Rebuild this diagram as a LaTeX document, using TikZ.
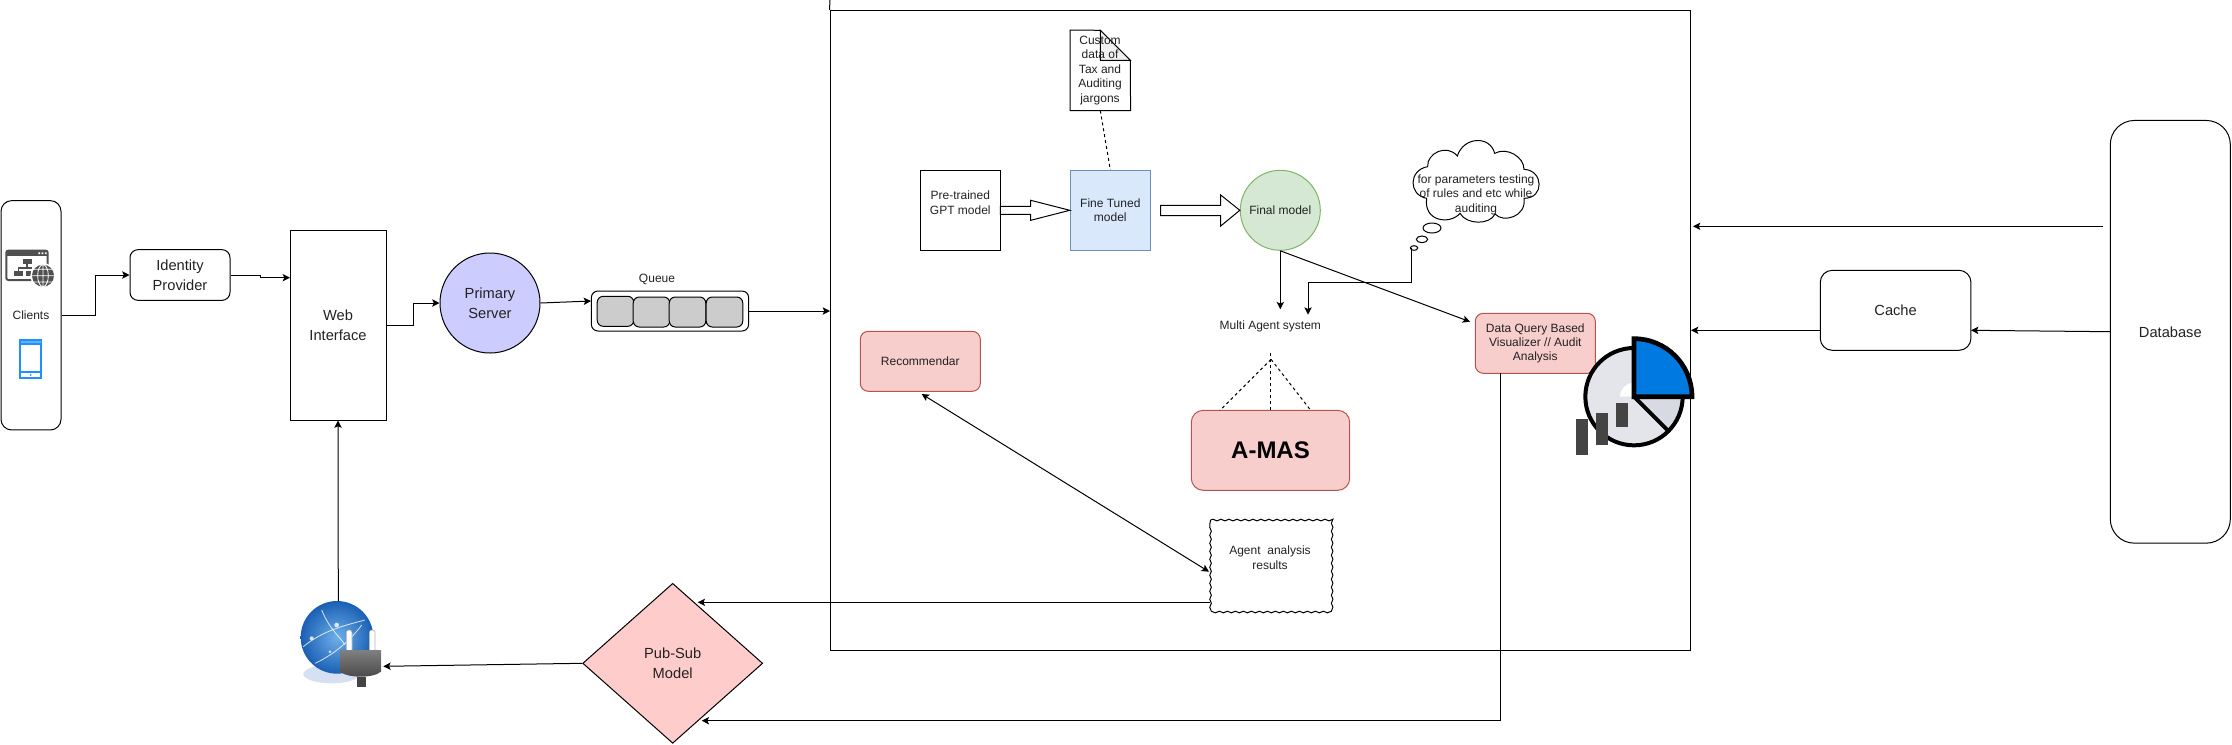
\documentclass[tikz,border=0pt]{standalone}
\usepackage{fontspec}
\setmainfont{Liberation Sans}
\usepackage{tikz}
\usetikzlibrary{arrows.meta, shapes, decorations.pathmorphing}

\definecolor{txtcol}{HTML}{222222}
\definecolor{iconcol}{HTML}{505050}
\definecolor{phonecol}{HTML}{1E90FF}
\definecolor{cellcol}{HTML}{CCCCCC}
\definecolor{bluefill}{HTML}{DAE8FC}
\definecolor{bluedraw}{HTML}{6C8EBF}
\definecolor{greenfill}{HTML}{D5E8D4}
\definecolor{greendraw}{HTML}{82B366}
\definecolor{redfill}{HTML}{F8CECC}
\definecolor{reddraw}{HTML}{B85450}
\definecolor{pubfill}{HTML}{FFCCCC}
\definecolor{purplefill}{HTML}{CCCCFF}
\definecolor{piegrey}{HTML}{E3E5EA}
\definecolor{piedark}{HTML}{D8DAE3}
\definecolor{pieblue}{HTML}{0079E1}
\definecolor{barcol}{HTML}{444444}
\definecolor{globein}{HTML}{6FB0EA}
\definecolor{globeout}{HTML}{1A5FB4}
\definecolor{globeshadow}{HTML}{D6E0F2}

\newcommand{\smalltxt}{\fontsize{9pt}{10.8pt}\selectfont}
\newcommand{\bigtxt}{\fontsize{11pt}{15pt}\selectfont}

\tikzset{
  boxnode/.style={draw=black, line width=0.75pt, text=txtcol, align=center, inner sep=0pt},
  smallbox/.style={boxnode, font=\smalltxt},
  bigbox/.style={boxnode, font=\bigtxt},
  plaintext/.style={text=txtcol, align=center, inner sep=0pt, font=\smalltxt},
  cellbox/.style={draw=black, fill=cellcol, rounded corners=4.5pt, line width=0.75pt, minimum height=22.5pt, minimum width=27.4pt},
  redbox/.style={smallbox, draw=reddraw, fill=redfill, rounded corners=6pt, minimum width=90pt, minimum height=45pt},
}

\begin{document}
\begin{tikzpicture}[x=0.75pt, y=-0.75pt]
\useasboundingbox (0,0) rectangle (2232,744);

% main frame first, everything else sits on it
\node[boxnode, minimum width=645pt, minimum height=480pt] (frame) at (1260,330.3) {};
\coordinate (frametop) at (830,0);
\draw[line width=0.75pt] (frame.north west) -- (frametop);

\begin{scope}[every node/.style={bigbox}]
  \node[rounded corners=8pt, minimum width=45pt, minimum height=172pt, font=\smalltxt] (clients) at (31,315.3) {Clients};
  \node[rounded corners=6pt, minimum width=75pt, minimum height=38pt] (identity) at (180,275) {Identity\\Provider};
  \node[minimum width=72pt, minimum height=142.5pt] (web) at (338,325) {Web\\Interface};
  \node[circle, fill=purplefill, minimum size=75pt] (primary) at (490,303) {Primary\\Server};
  \node[rounded corners=5pt, minimum width=118pt, minimum height=30pt] (queue) at (670,311) {};
  \node[rounded corners=9pt, minimum width=113pt, minimum height=60pt] (cache) at (1895.6,310.3) {Cache};
  \node[rounded corners=18pt, minimum width=90pt, minimum height=317pt] (db) at (2170.3,331.8) {Database};
  \node[diamond, fill=pubfill, aspect=1.125, minimum width=135pt, minimum height=120pt] (pubsub) at (672.7,663.3) {Pub-Sub\\Model};
\end{scope}

\node[plaintext] (queuelabel) at (657,279) {Queue};
\node[cellbox] (celli) at (615.5,311.3) {};
\node[cellbox] (cellii) at (651.5,312) {};
\node[cellbox] (celliii) at (687.5,312) {};
\node[cellbox] (celliv) at (724.5,312) {};

% inside the frame
\node[smallbox, minimum size=60pt] (pretrained) at (960.3,210.3) {};
\node[plaintext] (pretrainedlabel) at (960.3,202.7) {Pre-trained\\GPT model};
\node[smallbox, draw=bluedraw, fill=bluefill, minimum size=60pt] (finetuned) at (1110.3,210.3) {Fine Tuned\\model};
\node[smallbox, circle, draw=greendraw, fill=greenfill, minimum size=60pt] (finalmodel) at (1280.3,210.3) {Final model};
\node[plaintext] (mas) at (1270.3,326) {Multi Agent system};
\node[boxnode, draw=reddraw, fill=redfill, rounded corners=9pt, minimum width=118.8pt, minimum height=60pt, text=black, font=\fontsize{18pt}{20pt}\selectfont\bfseries] (amas) at (1270.5,450.3) {A-MAS};
\node[redbox] (dataquery) at (1535.3,343.3) {Data Query Based\\Visualizer // Audit\\Analysis};
\node[redbox] (recommendar) at (920.3,361.3) {Recommendar};

% wavy box
\node[minimum width=90pt, minimum height=67.5pt, inner sep=0pt] (results) at (1270.7,565.3) {};
\draw[line width=0.75pt, decorate, decoration={snake, amplitude=0.6pt, segment length=6pt}]
  (results.north west) -- (results.north east) -- (results.south east) -- (results.south west) -- cycle;
\node[plaintext] (resultslabel) at (1270,557.7) {Agent\ \ analysis\\results};

% document with folded corner
\node[minimum width=45pt, minimum height=60pt, inner sep=0pt] (customdoc) at (1100.3,70.3) {};
\draw[line width=0.75pt, fill=white] (customdoc.north west) -- (1100.3,30.3) -- (1130.3,60.3) -- (customdoc.south east) -- (customdoc.south west) -- cycle;
\draw[line width=0.75pt, fill=black!6] (1100.3,30.3) -- (1100.3,60.3) -- (1130.3,60.3) -- cycle;
\node[plaintext] (customlabel) at (1100,70.3) {Custom\\data of\\Tax and\\Auditing\\jargons};

% thought cloud
\begin{scope}[shift={(1300,120)}, x=0.25pt, y=-0.25pt, line width=0.75pt]
  \draw (383,140) .. controls (380,100) and (440,70) .. (472,108)
    .. controls (490,50) and (570,45) .. (584,100)
    .. controls (620,80) and (672,110) .. (672,148)
    .. controls (730,150) and (735,235) .. (672,235)
    .. controls (680,290) and (610,310) .. (585,282)
    .. controls (570,315) and (500,315) .. (480,280)
    .. controls (450,315) and (370,305) .. (380,235)
    .. controls (325,225) and (325,150) .. (383,140) -- cycle;
  \draw (396,324) ellipse [x radius=27, y radius=15];
  \draw (366,358) ellipse [x radius=17, y radius=10];
  \draw (342,384) ellipse [x radius=11, y radius=7];
\end{scope}
\node[plaintext] (cloudtext) at (1476,194.7) {for parameters testing\\of rules and etc while\\auditing};

% pie chart
\begin{scope}[shift={(1300,120)}, x=0.25pt, y=-0.25pt]
  \coordinate (piec) at (1002,830);
  \fill[piegrey] (piec) circle [radius=146];
  \fill[white] (960,830) arc [start angle=180, end angle=270, radius=42] -- (1002,830) -- cycle;
  \fill[piedark] (piec) -- (1148,830) arc [start angle=0, end angle=45, radius=146] -- cycle;
  \draw[line width=3pt] (piec) circle [radius=146];
  \draw[line width=3pt] (piec) -- (1102,930);
  \draw[line width=3.5pt, fill=pieblue] (piec) -- (1002,656) arc [start angle=-90, end angle=0, radius=174] -- cycle;
  \fill[barcol] (828,897) rectangle (864,1005);
  \fill[barcol] (888,879) rectangle (924,975);
  \fill[barcol] (948,849) rectangle (984,921);
\end{scope}

% client icons
\begin{scope}[shift={(0,230)}, x=0.25pt, y=-0.25pt]
  \draw[iconcol, line width=1.5pt, rounded corners=1.5pt] (19,62) rectangle (143,150);
  \fill[iconcol] (19,62) rectangle (143,78);
  \fill[white] (115,67) rectangle (120,72) (125,67) rectangle (130,72) (135,67) rectangle (140,72);
  \fill[iconcol] (68,88) rectangle (95,102);
  \fill[iconcol] (42,124) rectangle (69,138);
  \fill[iconcol] (78,124) rectangle (100,138);
  \draw[iconcol, line width=1pt] (81,102) -- (81,114) (55,124) -- (55,114) -- (95,114);
  \fill[white] (129,137) circle [radius=38];
  \fill[iconcol] (129,137) circle [radius=33];
  \draw[white, line width=0.6pt] (129,104) -- (129,170) (96,137) -- (162,137)
    (102,118) -- (156,118) (102,156) -- (156,156)
    (129,104) arc [start angle=-90, end angle=-270, x radius=16, y radius=33]
    (129,104) arc [start angle=-90, end angle=90, x radius=16, y radius=33];
  % phone
  \draw[phonecol, line width=1.5pt] (60,330) rectangle (124,444);
  \fill[phonecol!70!white] (62,332) rectangle (122,342);
  \draw[phonecol, line width=1.2pt] (60,342) -- (124,342) (60,426) -- (124,426);
  \fill[phonecol] (92,435) circle [radius=3];
\end{scope}

% globe with plug
\begin{scope}[shift={(270,570)}, x=0.25pt, y=-0.25pt]
  \fill[globeshadow] (185,312) ellipse [x radius=85, y radius=28];
  \shade[inner color=globein, outer color=globeout] (201,202) circle [radius=109];
  \draw[white, opacity=0.8, line width=0.6pt]
    (100,230) .. controls (160,180) and (230,165) .. (285,150)
    (155,120) .. controls (180,180) and (210,200) .. (225,225)
    (135,280) .. controls (200,250) and (250,200) .. (275,165);
  \fill[white, opacity=0.8] (200,165) circle [radius=7] (125,205) circle [radius=6] (180,245) circle [radius=4];
  \draw[black!30, fill=white, line width=0.4pt, rounded corners=2pt] (229,240) -- (229,180) -- (246,180) -- (246,240);
  \draw[black!30, fill=white, line width=0.4pt, rounded corners=2pt] (298,240) -- (298,180) -- (315,180) -- (315,240);
  \fill[barcol] (262,320) rectangle (287,350);
  \shade[top color=black!50, bottom color=black!72] (210,240) -- (333,240) -- (333,305) .. controls (310,325) and (235,325) .. (210,305) -- cycle;
\end{scope}
\coordinate (globetop) at (338.3,601);
\coordinate (globeplug) at (383.3,666.3);

% connector ends that sit on no anchor
\coordinate (queuein) at (591,301);
\coordinate (framequeue) at (830,311);
\coordinate (webin) at (290,277.7);
\coordinate (dbtop) at (2102.5,226.3);
\coordinate (frameright) at (1693,226.3);
\coordinate (cacheout) at (1820.5,330.3);
\coordinate (framecache) at (1691,330.3);
\coordinate (cachein) at (1971,330.3);
\coordinate (dbout) at (2110.3,331.7);
\coordinate (masleft) at (1280.3,309.3);
\coordinate (dataquerytip) at (1470,321.7);
\coordinate (bubble) at (1411.7,248);
\coordinate (masright) at (1308,314.7);
\coordinate (recotip) at (921.7,394);
\coordinate (resultstip) at (1209,571.7);
\coordinate (resultsout) at (1210,602.3);
\coordinate (pubtop) at (697.7,602.3);
\coordinate (dataout) at (1500.7,373.3);
\coordinate (pubbottom) at (701.7,720.7);

% connectors
\begin{scope}[>={Stealth[black, length=5.5pt, width=5.5pt, inset=1.2pt]},
              every edge/.style={draw=black, line width=0.75pt}, line width=0.75pt]
  \draw[->] (clients.east) -- (95,315.3) |- (identity.west);
  \draw[->] (identity.east) -- (260.7,275) -- (260.7,277.7) -- (webin);
  \draw[->] (web.east) -- (413,325) |- (primary.west);
  \path[->] (primary.east) edge (queuein);
  \path[->] (queue.east) edge (framequeue);
  \path[->] (globetop) edge (web.south);
  \path[->] (pubsub.west) edge (globeplug);
  \path[->] (dbtop) edge (frameright);
  \path[->] (cacheout) edge (framecache);
  \path[->] (dbout) edge (cachein);
  \path[->] (finalmodel.south) edge (masleft);
  \path[->] (finalmodel.south) edge (dataquerytip);
  \draw[->] (bubble) -- (1411.7,282) -- (1308,282) -- (masright);
  \path[<->] (recotip) edge (resultstip);
  \path[->] (resultsout) edge (pubtop);
  \draw[->] (dataout) -- (1500.7,720.7) -- (pubbottom);
\end{scope}

% block arrows
\begin{scope}[line width=0.75pt]
  \draw[fill=white] (1000.3,206.3) -- (1030.7,206.3) -- (1030.7,200.3) -- (finetuned.west) -- (1030.7,220.3) -- (1030.7,214.3) -- (1000.3,214.3) -- cycle;
  \draw[fill=white] (1160.7,205.3) -- (1220.7,205.3) -- (1220.7,195) -- (finalmodel.west) -- (1220.7,226) -- (1220.7,215.7) -- (1160.7,215.7) -- cycle;
\end{scope}

% dashed links
\begin{scope}[line width=0.75pt, dash pattern=on 2.25pt off 2.25pt]
  \coordinate (apex) at (1270.3,353.3);
  \coordinate (apexb) at (1271,359.3);
  \draw (customdoc.south) -- (finetuned.north);
  \draw (apex) -- (amas.north -| apex);
  \draw (apexb) -- (1220,410.3);
  \draw (apexb) -- (1310.7,410.3);
\end{scope}

\end{tikzpicture}
\end{document}
